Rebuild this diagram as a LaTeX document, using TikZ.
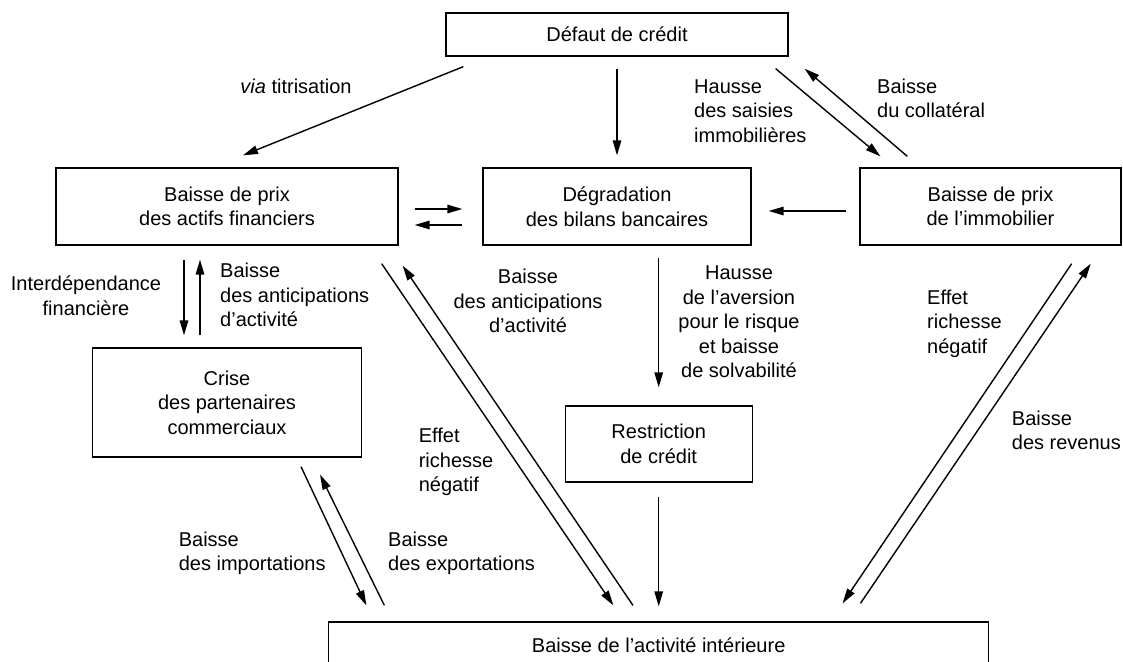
\documentclass[tikz,border=0pt]{standalone}
\usepackage{fontspec}
\setmainfont{Liberation Sans}
\usetikzlibrary{arrows.meta,calc}
\begin{document}
\begin{tikzpicture}[x=1pt,y=-1pt,
  every node/.style={font=\fontsize{20}{24.5}\selectfont, inner sep=0pt},
  box/.style={draw, line width=1.3pt, align=center},
  lbl/.style={align=left, anchor=west},
  clbl/.style={align=center},
  conn/.style={line width=1.4pt, -{Triangle[length=15pt,width=8.5pt]}}
]
\useasboundingbox (0,0) rectangle (1123,661);

% boxes
\node[box, minimum width=342pt, minimum height=43pt] (def) at (617,34.5) {Défaut de crédit};
\node[box, minimum width=342pt, minimum height=77pt] (act) at (227,206.5) {Baisse de prix\\des actifs financiers};
\node[box, minimum width=268pt, minimum height=77pt] (deg) at (617,206.5) {Dégradation\\des bilans bancaires};
\node[box, minimum width=261pt, minimum height=77pt] (imm) at (990.5,206.5) {Baisse de prix\\de l’immobilier};
\node[box, minimum width=269pt, minimum height=109pt] (cri) at (227,402.5) {Crise\\des partenaires\\commerciaux};
\node[box, minimum width=187pt, minimum height=76pt] (res) at (658.7,444) {Restriction\\de crédit};
\node[box, minimum width=660pt, minimum height=46pt] (dom) at (658.7,645) {Baisse de l’activité intérieure};

% connectors
\draw[conn] ($(def.south west)+(18,10)$) -- ($(act.north)+(16,-12)$);
\draw[conn] ($(def.south)+(0,12)$) -- ($(deg.north)+(0,-12)$);
\draw[conn] ($(def.south east)+(-13,12)$) -- ($(imm.north west)+(21,-11)$);
\draw[conn] ($(imm.north west)+(48,-11)$) -- ($(def.south east)+(16,12)$);
\draw[conn] ($(act.east)+(16,2.5)$) -- ($(deg.west)+(-20,2.5)$);
\draw[conn] ($(deg.west)+(-20,18.5)$) -- ($(act.east)+(16,18.5)$);
\draw[conn] ($(imm.west)+(-13,4.5)$) -- ($(deg.east)+(17,4.5)$);
\draw[conn] ($(act.south)+(-43,14)$) -- ($(cri.north)+(-43,-12)$);
\draw[conn] ($(cri.north)+(-27,-12)$) -- ($(act.south)+(-27,14)$);
\draw[conn] ($(act.south east)+(-17,18)$) -- ($(dom.north west)+(285.3,-16)$);
\draw[conn] ($(dom.north west)+(304.9,-16)$) -- ($(act.south east)+(4,20)$);
\draw[conn] ($(cri.south)+(74,9)$) -- ($(dom.north west)+(38.3,-16)$);
\draw[conn] ($(dom.north west)+(56.3,-16)$) -- ($(cri.south)+(93,17)$);
\draw[conn] ($(deg.south)+(41.7,12)$) -- ($(res.north)+(0,-18)$);
\draw[conn] ($(res.south)+(0,14)$) -- ($(dom.north)+(0,-15)$);
\draw[conn] ($(imm.south)+(81.2,18)$) -- ($(dom.north east)+(-146.8,-18)$);
\draw[conn] ($(dom.north east)+(-128.9,-18)$) -- ($(imm.south)+(100.2,18)$);

% labels
\node[clbl] (l1) at (296,86) {\textit{via} titrisation};
\node[lbl] (l2) at (694,111) {Hausse\\des saisies\\immobilières};
\node[lbl] (l3) at (877,98.5) {Baisse\\du collatéral};
\node[clbl] (l4) at (86,295.5) {Interdépendance\\financière};
\node[lbl] (l5) at (220,295) {Baisse\\des anticipations\\d’activité};
\node[clbl] (l6) at (528,301) {Baisse\\des anticipations\\d’activité};
\node[clbl] (l7) at (739,322) {Hausse\\de l’aversion\\pour le risque\\et baisse\\de solvabilité};
\node[lbl] (l8) at (418.6,462) {Effet\\richesse\\négatif};
\node[lbl] (l9) at (178.6,553.5) {Baisse\\des importations};
\node[lbl] (l10) at (388,553.5) {Baisse\\des exportations};
\node[lbl] (l11) at (927,323.5) {Effet\\richesse\\négatif};
\node[lbl] (l12) at (1011.7,430.5) {Baisse\\des revenus};
\end{tikzpicture}
\end{document}
